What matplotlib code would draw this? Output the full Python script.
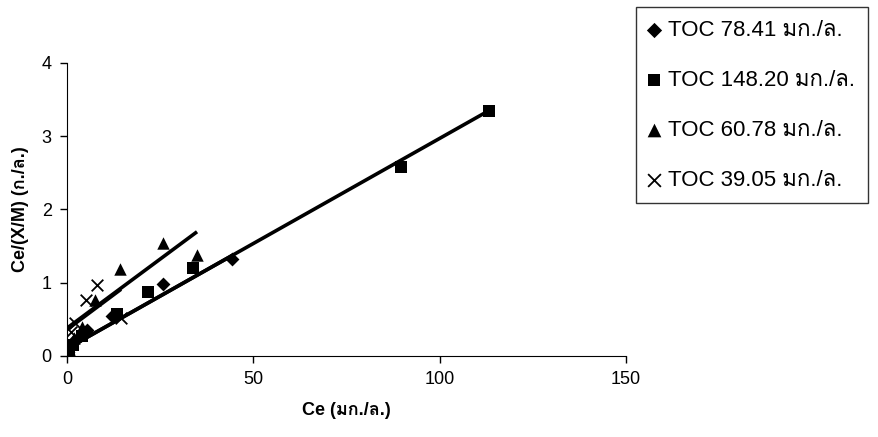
import matplotlib
matplotlib.use("Agg")
import matplotlib.pyplot as plt
from matplotlib import font_manager
from matplotlib.ft2font import FT2Font
import numpy as np

# find an installed family that has Thai glyphs
thai_family = None
for f in font_manager.fontManager.ttflist:
    try:
        if 0x0E01 in FT2Font(f.fname).get_charmap():
            thai_family = f.name
            break
    except Exception:
        pass

fams = ['Liberation Sans'] + ([thai_family] if thai_family else []) + ['DejaVu Sans']
plt.rcParams['font.family'] = fams

# data
labels = ["TOC 78.41 มก./ล.", "TOC 148.20 มก./ล.", "TOC 60.78 มก./ล.", "TOC 39.05 มก./ล."]
markers = ["D", "s", "^", "x"]

ce_diamond = [0.3, 1.0, 2.5, 5.5, 12.0, 25.8, 44.3]
q_diamond = [0.05, 0.12, 0.22, 0.35, 0.55, 0.98, 1.32]

ce_square = [0.5, 1.5, 4.0, 13.4, 21.7, 33.8, 89.6, 113.2]
q_square = [0.08, 0.15, 0.27, 0.57, 0.87, 1.20, 2.58, 3.34]

ce_triangle = [0.5, 2.0, 4.0, 7.5, 14.2, 25.8, 34.9]
q_triangle = [0.10, 0.25, 0.40, 0.76, 1.19, 1.54, 1.38]

ce_cross = [0.1, 0.3, 1.0, 2.1, 5.1, 8.0, 14.5]
q_cross = [0.05, 0.20, 0.33, 0.45, 0.77, 0.97, 0.52]

# trend lines (slope, intercept)
slopes = [0.0287, 0.0287, 0.0377, 0.038]
intercepts = [0.10, 0.10, 0.38, 0.36]

xs = [ce_diamond, ce_square, ce_triangle, ce_cross]
ys = [q_diamond, q_square, q_triangle, q_cross]

fig = plt.figure(figsize=(8.79, 4.37), dpi=100)
ax = fig.add_axes([0.0762, 0.1854, 0.6359, 0.6705])

handles = []
for x, y, m, lab, k, b in zip(xs, ys, markers, labels, slopes, intercepts):
    xl = np.array([0, max(x)])
    ax.plot(xl, k * xl + b, color="black", lw=2.6, solid_capstyle="butt", zorder=2)
    if m == "x":
        h = ax.scatter(x, y, marker="x", s=70, color="black", linewidths=1.3, zorder=3, label=lab)
    else:
        ms = {"D": 50, "s": 65, "^": 80}[m]
        h = ax.scatter(x, y, marker=m, s=ms, color="black", zorder=3, label=lab, linewidths=0)
    handles.append(h)

ax.set_xlim(0, 150)
ax.set_ylim(0, 4)
ax.set_xticks([0, 50, 100, 150])
ax.set_yticks([0, 1, 2, 3, 4])
ax.spines['top'].set_visible(False)
ax.spines['right'].set_visible(False)
ax.tick_params(direction="out", length=5, width=1, labelsize=13, pad=6)
ax.set_xlabel("Ce (มก./ล.)", fontsize=13, fontweight="bold", labelpad=10)
ax.set_ylabel("Ce/(X/M) (ก./ล.)", fontsize=13, fontweight="bold", labelpad=9)

leg = fig.legend(handles=handles, labels=labels, loc="upper left",
                 bbox_to_anchor=(636 / 879, 1 - 7 / 437), frameon=True, fancybox=False,
                 edgecolor="black", fontsize=16, labelspacing=1.3, handletextpad=0.35,
                 handlelength=0.5, borderpad=0.58, borderaxespad=0, markerscale=1.1)
leg.get_frame().set_linewidth(1.0)

fig.savefig("out.png", dpi=100)
